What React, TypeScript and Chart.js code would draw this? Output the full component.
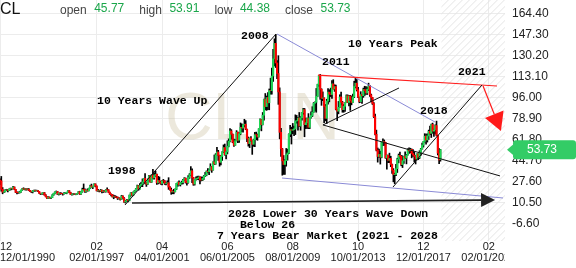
import { useEffect, useRef } from "react";
import { Chart, registerables } from "chart.js";

Chart.register(...registerables);

// ---------- data (monthly candles, index 0 = 12/1990) ----------
const SYMBOL = "CL";

const OPEN = [
  29.0,
  28.4, 21.5, 19.2, 19.6, 21.0, 21.1, 20.6, 21.7, 22.3, 22.2, 23.4, 21.5,
  19.1, 18.9, 18.7, 19.4, 20.9, 22.1, 21.6, 21.9, 21.5, 21.7, 20.6, 19.9,
  19.5, 20.3, 20.6, 20.4, 20.5, 19.9, 18.4, 17.9, 18.3, 18.8, 16.9, 15.4,
  14.2, 15.2, 14.5, 14.8, 16.9, 18.3, 19.4, 19.7, 17.6, 18.4, 18.2, 18.1,
  17.8, 18.4, 18.5, 19.2, 20.4, 18.9, 17.4, 17.6, 17.8, 17.5, 17.6, 18.2,
  19.6, 17.7, 19.5, 21.5, 21.2, 19.8, 20.9, 20.4, 22.3, 24.4, 23.4, 23.8,
  25.9, 24.2, 20.3, 20.4, 20.2, 20.9, 19.8, 20.1, 19.6, 21.2, 21.1, 19.2,
  17.6, 17.2, 15.4, 15.6, 15.4, 15.2, 14.2, 14.2, 13.4, 16.1, 14.4, 11.2,
  12.1, 12.8, 12.3, 16.8, 18.7, 16.8, 19.3, 20.5, 22.1, 24.5, 21.8, 24.6,
  25.6, 27.6, 30.4, 26.9, 25.7, 29.0, 32.5, 27.4, 33.1, 30.8, 32.7, 33.8,
  26.8, 28.7, 27.4, 26.3, 28.5, 28.4, 26.3, 26.4, 26.9, 23.4, 21.2, 19.4,
  19.8, 19.5, 21.7, 26.3, 27.3, 25.3, 26.9, 27.0, 29.0, 30.5, 27.2, 26.9,
  31.2, 33.5, 36.6, 31.0, 25.8, 29.6, 30.2, 30.5, 31.6, 29.2, 29.1, 30.4,
  32.5, 33.1, 36.2, 35.8, 37.4, 39.9, 37.1, 43.8, 42.1, 49.6, 51.8, 49.1,
  43.5, 48.2, 51.8, 55.4, 49.7, 52.0, 56.5, 60.6, 68.9, 66.2, 59.8, 57.3,
  61.0, 67.9, 61.4, 66.6, 71.9, 71.3, 73.9, 74.4, 70.3, 62.9, 58.7, 63.1,
  61.1, 58.1, 61.8, 65.9, 65.7, 64.0, 70.7, 78.2, 74.0, 81.7, 94.5, 88.7,
  96.0, 91.8, 101.8, 101.6, 113.5, 127.4, 140.0, 124.1, 115.5, 100.6, 67.8, 54.4,
  44.6, 41.7, 44.8, 49.7, 51.1, 66.3, 69.9, 69.5, 70.0, 70.6, 77.0, 77.3,
  79.4, 72.9, 79.7, 83.8, 86.2, 74.0, 75.6, 79.0, 71.9, 80.0, 81.4, 84.1,
  91.4, 92.2, 97.0, 106.7, 113.9, 102.7, 95.4, 95.7, 88.8, 79.2, 93.2, 100.4,
  98.8, 98.5, 107.1, 103.0, 104.9, 86.5, 85.0, 88.1, 96.5, 92.2, 86.2, 88.9,
  91.8, 97.5, 92.1, 97.2, 93.5, 92.0, 96.6, 105.0, 107.7, 102.3, 96.4, 92.7,
  98.4, 97.5, 102.6, 101.6, 99.7, 102.7, 105.4, 98.2, 96.0, 91.2, 80.5, 66.2,
  53.3, 48.2, 49.8, 47.6, 59.6, 60.3, 59.5, 47.1, 49.2, 45.1, 46.6, 41.7,
  37.0, 33.6, 33.8, 38.3, 45.9, 49.1, 48.3, 41.6, 44.7, 48.2, 46.9, 49.4,
  53.7, 52.8, 54.0, 50.6, 49.3, 48.3, 46.0, 50.2, 47.2, 51.7, 54.4, 57.4,
  60.4, 64.7, 61.6, 64.9, 68.6, 67.0, 74.2, 68.8, 69.8, 73.3, 65.3, 50.9,
  45.77,
];

const HIGH = [
  30.0,
  32.0, 23.0, 20.4, 21.3, 21.6, 21.3, 21.9, 22.6, 22.5, 24.0, 23.5, 21.5,
  19.6, 19.4, 19.8, 21.0, 22.2, 22.8, 22.2, 22.0, 22.1, 22.2, 20.8, 20.0,
  20.5, 20.9, 21.0, 20.9, 20.7, 19.9, 18.5, 18.5, 18.9, 19.0, 17.3, 15.6,
  15.6, 15.3, 15.0, 17.2, 18.4, 19.6, 20.2, 19.8, 18.4, 18.9, 18.7, 18.2,
  18.9, 18.8, 19.2, 20.6, 20.5, 19.2, 17.8, 18.1, 18.0, 17.8, 18.3, 19.7,
  20.0, 19.6, 22.5, 25.9, 22.0, 21.0, 22.0, 22.5, 24.9, 25.8, 24.0, 26.0,
  26.0, 24.3, 21.5, 20.6, 21.5, 21.0, 20.5, 20.5, 21.3, 22.7, 21.3, 19.3,
  17.9, 17.3, 16.8, 16.5, 16.0, 15.3, 14.9, 14.4, 16.7, 16.3, 14.8, 12.6,
  13.3, 13.1, 16.9, 18.8, 19.2, 19.5, 20.8, 22.3, 25.0, 24.8, 26.3, 27.2,
  30.0, 30.5, 34.4, 27.0, 30.0, 33.0, 32.6, 33.3, 37.8, 35.0, 36.4, 34.0,
  32.0, 31.6, 28.0, 28.8, 29.6, 28.6, 27.0, 28.5, 31.0, 23.8, 22.6, 20.5,
  21.6, 21.9, 26.4, 27.4, 28.4, 27.0, 28.2, 29.6, 31.0, 30.8, 27.7, 32.7,
  34.3, 39.99, 38.1, 31.2, 29.6, 31.7, 32.2, 32.3, 31.6, 31.6, 31.6, 33.0,
  35.3, 36.5, 38.4, 37.9, 42.3, 40.0, 43.8, 49.4, 50.5, 55.7, 53.2, 49.3,
  49.0, 52.1, 57.6, 58.3, 52.5, 60.9, 62.5, 70.9, 70.0, 66.5, 62.3, 61.9,
  69.2, 68.0, 67.5, 75.4, 74.7, 73.9, 78.4, 77.3, 70.4, 64.0, 63.2, 64.4,
  61.1, 62.3, 67.9, 68.1, 66.5, 70.7, 78.8, 78.3, 83.9, 94.7, 99.3, 97.3,
  100.1, 103.0, 111.8, 119.9, 135.1, 143.7, 147.3, 126.0, 130.0, 103.9, 71.0, 54.7,
  49.0, 45.5, 54.7, 54.2, 66.5, 73.4, 72.0, 75.0, 72.9, 82.0, 81.5, 80.0,
  83.9, 80.5, 83.9, 87.2, 87.2, 79.4, 79.3, 83.0, 80.1, 84.5, 88.6, 92.0,
  92.6, 103.4, 106.9, 113.9, 114.8, 103.2, 100.6, 95.9, 90.5, 94.7, 103.4, 102.4,
  103.7, 109.8, 110.5, 106.4, 106.2, 86.6, 92.9, 98.3, 100.4, 92.9, 90.4, 91.9,
  98.2, 98.2, 97.8, 97.8, 97.3, 98.9, 109.3, 112.2, 110.7, 104.4, 96.4, 100.8,
  98.5, 103.7, 105.2, 104.9, 104.5, 107.7, 106.0, 98.9, 96.1, 92.0, 82.6, 69.6,
  55.1, 54.2, 52.5, 59.9, 62.6, 61.6, 59.7, 49.3, 49.4, 50.9, 48.4, 42.0,
  38.4, 34.7, 41.9, 46.8, 50.2, 51.7, 49.0, 48.8, 48.4, 51.9, 49.9, 54.5,
  55.2, 54.9, 54.3, 53.8, 52.0, 48.9, 50.4, 50.4, 52.9, 54.8, 59.1, 60.5,
  66.7, 66.3, 66.6, 69.6, 72.9, 74.5, 75.3, 70.4, 73.9, 76.9, 65.4, 54.6,
  53.91,
];

const LOW = [
  25.3,
  20.0, 17.9, 18.8, 19.4, 20.5, 19.4, 20.4, 20.9, 21.2, 22.0, 21.2, 18.9,
  17.8, 18.3, 18.5, 19.1, 20.7, 21.4, 21.1, 20.8, 21.1, 20.4, 19.6, 18.9,
  18.6, 19.8, 20.0, 20.2, 19.7, 18.2, 17.3, 17.6, 17.5, 16.8, 15.4, 13.9,
  14.0, 14.4, 13.9, 14.8, 16.7, 17.9, 18.9, 17.3, 16.9, 17.5, 17.8, 16.8,
  17.6, 18.0, 17.9, 19.0, 18.7, 17.3, 16.8, 17.1, 17.3, 17.1, 17.4, 18.2,
  17.4, 17.5, 19.2, 20.9, 19.0, 19.2, 20.0, 20.3, 22.0, 23.2, 22.1, 23.6,
  23.5, 20.2, 19.9, 19.4, 19.8, 18.6, 19.0, 19.3, 19.2, 20.8, 19.0, 17.4,
  16.1, 15.3, 13.9, 14.9, 14.8, 13.3, 13.7, 12.8, 13.3, 13.9, 10.9, 10.4,
  11.7, 11.4, 12.2, 15.8, 16.5, 16.3, 18.9, 19.9, 21.8, 20.8, 21.7, 24.0,
  23.7, 27.0, 26.0, 23.9, 25.4, 28.1, 27.3, 27.2, 30.0, 29.8, 32.0, 25.6,
  26.0, 26.5, 25.6, 25.2, 26.9, 25.5, 25.2, 26.0, 21.5, 20.8, 17.5, 17.9,
  17.9, 19.4, 21.4, 23.9, 24.9, 24.2, 25.7, 26.0, 28.8, 26.6, 25.0, 26.5,
  30.4, 32.7, 26.9, 24.8, 25.0, 29.0, 29.5, 29.2, 26.0, 28.4, 28.6, 29.5,
  32.0, 32.5, 34.8, 33.5, 37.2, 35.3, 37.0, 41.6, 41.9, 49.5, 45.0, 40.3,
  41.3, 45.0, 51.2, 49.2, 46.2, 50.3, 56.0, 60.0, 62.2, 59.3, 56.3, 57.3,
  60.8, 59.5, 59.6, 65.8, 68.2, 68.0, 72.1, 69.9, 60.3, 56.6, 55.4, 60.2,
  49.9, 56.4, 56.2, 61.9, 61.3, 64.0, 70.5, 69.0, 73.8, 77.7, 86.0, 85.6,
  86.1, 86.1, 98.7, 98.7, 109.1, 121.6, 120.4, 111.3, 90.5, 62.5, 48.3, 33.0,
  33.6, 33.6, 40.3, 45.2, 50.4, 64.3, 58.3, 66.6, 65.1, 66.0, 75.2, 69.5,
  72.4, 69.5, 77.6, 82.5, 64.2, 70.8, 71.0, 70.8, 70.8, 79.2, 80.6, 84.0,
  84.9, 84.1, 96.9, 105.0, 94.6, 89.7, 93.5, 75.7, 77.1, 74.9, 90.6, 92.5,
  96.8, 95.4, 102.9, 101.0, 86.0, 77.3, 82.8, 87.9, 90.0, 84.1, 84.1, 84.7,
  91.8, 92.0, 89.3, 85.6, 90.1, 92.0, 96.0, 103.8, 101.3, 95.9, 91.8, 92.2,
  91.2, 96.2, 97.4, 98.6, 98.5, 101.6, 97.0, 92.5, 90.4, 79.8, 65.7, 52.7,
  43.6, 47.4, 42.0, 47.1, 57.0, 57.2, 46.7, 37.8, 43.2, 43.2, 39.9, 34.5,
  27.6, 26.1, 32.6, 35.2, 43.0, 46.7, 40.6, 39.2, 42.5, 46.6, 42.2, 49.3,
  50.7, 51.2, 47.1, 48.2, 43.8, 42.1, 45.4, 45.6, 46.5, 49.1, 54.2, 55.8,
  59.8, 58.1, 59.9, 62.0, 65.8, 63.6, 67.0, 64.4, 66.4, 64.9, 49.4, 42.4,
  44.38,
];

const CLOSE = [
  28.4,
  21.5, 19.2, 19.6, 21.0, 21.1, 20.6, 21.7, 22.3, 22.2, 23.4, 21.5, 19.1,
  18.9, 18.7, 19.4, 20.9, 22.1, 21.6, 21.9, 21.5, 21.7, 20.6, 19.9, 19.5,
  20.3, 20.6, 20.4, 20.5, 19.9, 18.4, 17.9, 18.3, 18.8, 16.9, 15.4, 14.2,
  15.2, 14.5, 14.8, 16.9, 18.3, 19.4, 19.7, 17.6, 18.4, 18.2, 18.1, 17.8,
  18.4, 18.5, 19.2, 20.4, 18.9, 17.4, 17.6, 17.8, 17.5, 17.6, 18.2, 19.6,
  17.7, 19.5, 21.5, 21.2, 19.8, 20.9, 20.4, 22.3, 24.4, 23.4, 23.8, 25.9,
  24.2, 20.3, 20.4, 20.2, 20.9, 19.8, 20.1, 19.6, 21.2, 21.1, 19.2, 17.6,
  17.2, 15.4, 15.6, 15.4, 15.2, 14.2, 14.2, 13.4, 16.1, 14.4, 11.2, 12.1,
  12.8, 12.3, 16.8, 18.7, 16.8, 19.3, 20.5, 22.1, 24.5, 21.8, 24.6, 25.6,
  27.6, 30.4, 26.9, 25.7, 29.0, 32.5, 27.4, 33.1, 30.8, 32.7, 33.8, 26.8,
  28.7, 27.4, 26.3, 28.5, 28.4, 26.3, 26.4, 26.9, 23.4, 21.2, 19.4, 19.8,
  19.5, 21.7, 26.3, 27.3, 25.3, 26.9, 27.0, 29.0, 30.5, 27.2, 26.9, 31.2,
  33.5, 36.6, 31.0, 25.8, 29.6, 30.2, 30.5, 31.6, 29.2, 29.1, 30.4, 32.5,
  33.1, 36.2, 35.8, 37.4, 39.9, 37.1, 43.8, 42.1, 49.6, 51.8, 49.1, 43.5,
  48.2, 51.8, 55.4, 49.7, 52.0, 56.5, 60.6, 68.9, 66.2, 59.8, 57.3, 61.0,
  67.9, 61.4, 66.6, 71.9, 71.3, 73.9, 74.4, 70.3, 62.9, 58.7, 63.1, 61.1,
  58.1, 61.8, 65.9, 65.7, 64.0, 70.7, 78.2, 74.0, 81.7, 94.5, 88.7, 96.0,
  91.8, 101.8, 101.6, 113.5, 127.4, 140.0, 124.1, 115.5, 100.6, 67.8, 54.4, 44.6,
  41.7, 44.8, 49.7, 51.1, 66.3, 69.9, 69.5, 70.0, 70.6, 77.0, 77.3, 79.4,
  72.9, 79.7, 83.8, 86.2, 74.0, 75.6, 79.0, 71.9, 80.0, 81.4, 84.1, 91.4,
  92.2, 97.0, 106.7, 113.9, 102.7, 95.4, 95.7, 88.8, 79.2, 93.2, 100.4, 98.8,
  98.5, 107.1, 103.0, 104.9, 86.5, 85.0, 88.1, 96.5, 92.2, 86.2, 88.9, 91.8,
  97.5, 92.1, 97.2, 93.5, 92.0, 96.6, 105.0, 107.7, 102.3, 96.4, 92.7, 98.4,
  97.5, 102.6, 101.6, 99.7, 102.7, 105.4, 98.2, 96.0, 91.2, 80.5, 66.2, 53.3,
  48.2, 49.8, 47.6, 59.6, 60.3, 59.5, 47.1, 49.2, 45.1, 46.6, 41.7, 37.0,
  33.6, 33.8, 38.3, 45.9, 49.1, 48.3, 41.6, 44.7, 48.2, 46.9, 49.4, 53.7,
  52.8, 54.0, 50.6, 49.3, 48.3, 46.0, 50.2, 47.2, 51.7, 54.4, 57.4, 60.4,
  64.7, 61.6, 64.9, 68.6, 67.0, 74.2, 68.8, 69.8, 73.3, 65.3, 50.9, 45.4,
  53.73,
];

// x axis (month index) ticks and labels
const X_TICK_INDEX = [0, 74, 124, 174, 224, 274, 324, 374];
const X_TICK_TOP = ["12", "02", "04", "06", "08", "10", "12", "02"];
const X_TICK_BOTTOM = [
  "12/01/1990", "02/01/1997", "04/01/2001", "06/01/2005",
  "08/01/2009", "10/01/2013", "12/01/2017", "02/01/2022",
];
const X_MAX = 386.4;

// y axis ticks
const Y_TICKS = [-6.6, 10.5, 27.6, 44.7, 61.8, 78.9, 96.0, 113.1, 130.2, 147.3, 164.4];
const Y_MIN = -20.4;
const Y_MAX = 175.2;

// drawings, in data space [month index, price]
const TREND_LINES = [
  { from: [95.6, 8.8], to: [211.2, 147.6], color: "#111111", width: 1 },
  { from: [212.0, 147.6], to: [332.8, 76.2], color: "#8a8ad6", width: 1 },
  { from: [215.8, 30.7], to: [384.9, 14.5], color: "#8a8ad6", width: 1 },
  { from: [243.3, 114.3], to: [380.3, 105.4], color: "#ff2020", width: 1.2 },
  { from: [300.7, 23.4], to: [368.8, 106.2], color: "#111111", width: 1 },
  { from: [247.1, 73.8], to: [305.3, 103.8], color: "#111111", width: 1 },
  { from: [247.1, 73.8], to: [382.6, 32.4], color: "#111111", width: 1 },
];
const ARROWS = [
  { from: [369.6, 105.4], to: [383.3, 68.9], color: "#ff1a1a", width: 1.2, head: 18, half: 10 },
  { from: [101.0, 10.4], to: [378.8, 12.9], color: "#222222", width: 1.6, head: 14, half: 7 },
];
const NOTES = [
  { text: "2008", at: [184.4, 146.0] },
  { text: "10 Years Peak", at: [266.3, 139.5] },
  { text: "2011", at: [246.4, 124.9] },
  { text: "2021", at: [350.4, 116.8] },
  { text: "10 Years Wave Up", at: [74.2, 93.2] },
  { text: "2018", at: [321.4, 85.1] },
  { text: "1998", at: [82.6, 36.4] },
  { text: "2028 Lower 30 Years Wave Down", at: [174.5, 1.5] },
  { text: "Below 26", at: [183.6, -7.4] },
  { text: "7 Years Bear Market (2021 - 2028", at: [166.0, -16.3] },
];

const GREEN = "#1fd655";
const RED = "#ff0000";
const SANS = "'Liberation Sans', Arial, sans-serif";
const MONO = "'Courier New', 'Liberation Mono', monospace";

const overlay = {
  id: "overlay",
  beforeDatasetsDraw(chart: any) {
    const { ctx, chartArea: a, scales } = chart;
    const x = scales.x;
    // hatched future region
    const hx = x.getPixelForValue(CLOSE.length - 1) + 1;
    const h = a.bottom - a.top;
    ctx.save();
    ctx.beginPath();
    ctx.rect(hx, a.top, a.right - hx, h);
    ctx.clip();
    ctx.strokeStyle = "#e4e4e4";
    ctx.lineWidth = 1;
    for (let s = hx - h; s < a.right; s += 7) {
      ctx.beginPath();
      ctx.moveTo(s, a.bottom);
      ctx.lineTo(s + h, a.top);
      ctx.stroke();
    }
    ctx.restore();
    // watermark
    ctx.save();
    ctx.fillStyle = "rgba(196,184,146,0.32)";
    ctx.font = `66px ${SANS}`;
    ctx.textBaseline = "alphabetic";
    ctx.textAlign = "left";
    ctx.fillText("CL", 165, 139);
    ctx.fillText("IN", 274, 139);
    ctx.restore();
  },
  afterDatasetsDraw(chart: any) {
    const { ctx, chartArea: a, scales } = chart;
    const x = scales.x;
    const y = scales.y;
    const P = (p: number[]) => [x.getPixelForValue(p[0]), y.getPixelForValue(p[1])];

    ctx.save();
    ctx.beginPath();
    ctx.rect(a.left, a.top, a.right - a.left, a.bottom - a.top);
    ctx.clip();
    TREND_LINES.forEach((l) => {
      const [x1, y1] = P(l.from);
      const [x2, y2] = P(l.to);
      ctx.strokeStyle = l.color;
      ctx.lineWidth = l.width;
      ctx.beginPath();
      ctx.moveTo(x1, y1);
      ctx.lineTo(x2, y2);
      ctx.stroke();
    });
    ARROWS.forEach((ar) => {
      const [x1, y1] = P(ar.from);
      const [x2, y2] = P(ar.to);
      const len = Math.hypot(x2 - x1, y2 - y1);
      const ux = (x2 - x1) / len;
      const uy = (y2 - y1) / len;
      const bx = x2 - ux * ar.head;
      const by = y2 - uy * ar.head;
      ctx.strokeStyle = ar.color;
      ctx.lineWidth = ar.width;
      ctx.beginPath();
      ctx.moveTo(x1, y1);
      ctx.lineTo(bx, by);
      ctx.stroke();
      ctx.fillStyle = ar.color;
      ctx.beginPath();
      ctx.moveTo(x2, y2);
      ctx.lineTo(bx - uy * ar.half, by + ux * ar.half);
      ctx.lineTo(bx + uy * ar.half, by - ux * ar.half);
      ctx.closePath();
      ctx.fill();
    });
    ctx.restore();

    // notes
    ctx.save();
    ctx.font = `bold 11.5px ${MONO}`;
    ctx.fillStyle = "#000";
    ctx.textBaseline = "middle";
    ctx.textAlign = "left";
    NOTES.forEach((n) => {
      const [px, py] = P(n.at);
      ctx.fillText(n.text, px, py);
    });
    ctx.restore();

    // header
    const last = CLOSE.length - 1;
    ctx.save();
    ctx.textBaseline = "alphabetic";
    ctx.textAlign = "left";
    ctx.font = `16px ${SANS}`;
    ctx.fillStyle = "#111";
    ctx.fillText(SYMBOL, 0, 14);
    const items: [string, number][] = [
      ["open", OPEN[last]],
      ["high", HIGH[last]],
      ["low", LOW[last]],
      ["close", CLOSE[last]],
    ];
    let cx = 60;
    items.forEach(([lab, val]) => {
      ctx.font = `12px ${SANS}`;
      ctx.fillStyle = "#444";
      ctx.fillText(lab, cx, 14);
      cx += ctx.measureText(lab).width + 7.5;
      ctx.fillStyle = "#1aa64a";
      const vs = val.toFixed(2);
      ctx.fillText(vs, cx, 12);
      cx += ctx.measureText(vs).width + 15;
    });
    ctx.restore();

    // x axis labels
    ctx.save();
    ctx.beginPath();
    ctx.rect(0, a.bottom, a.right, chart.height - a.bottom);
    ctx.clip();
    ctx.font = `11px ${SANS}`;
    ctx.fillStyle = "#222";
    ctx.textBaseline = "middle";
    ctx.textAlign = "left";
    X_TICK_INDEX.forEach((v, i) => {
      const px = x.getPixelForValue(v);
      [X_TICK_TOP[i], X_TICK_BOTTOM[i]].forEach((t, j) => {
        const w = ctx.measureText(t).width;
        const left = Math.max(0, px - w / 2);
        ctx.fillText(t, left, a.bottom + 6 + j * 11);
      });
    });
    ctx.restore();

    // last price box
    const py = y.getPixelForValue(CLOSE[last]);
    const tip = a.right + 2;
    ctx.save();
    ctx.fillStyle = "#33cc66";
    ctx.beginPath();
    ctx.moveTo(tip, py);
    ctx.lineTo(tip + 7, py - 6);
    ctx.lineTo(tip + 7, py + 6);
    ctx.closePath();
    ctx.fill();
    ctx.beginPath();
    ctx.roundRect(tip + 6, py - 9.5, chart.width - tip - 6, 19, 3);
    ctx.fill();
    ctx.fillStyle = "#ffffff";
    ctx.font = `12px ${SANS}`;
    ctx.textBaseline = "middle";
    ctx.textAlign = "left";
    ctx.fillText(CLOSE[last].toFixed(2), tip + 20, py + 0.5);
    ctx.restore();
  },
};

export default function App() {
  const ref = useRef<HTMLCanvasElement | null>(null);
  useEffect(() => {
    if (!ref.current) return;
    const idx = CLOSE.map((_, i) => i);
    const chart = new Chart(ref.current, {
      type: "bar",
      data: {
        datasets: [
          {
            label: "wick",
            data: idx.map((i) => ({ x: i, y: [LOW[i], HIGH[i]] })) as any,
            backgroundColor: "#000000",
            barThickness: 1,
            grouped: false,
            order: 2,
          },
          {
            label: "body",
            data: idx.map((i) => ({
              x: i,
              y: [Math.min(OPEN[i], CLOSE[i]), Math.max(OPEN[i], CLOSE[i])],
            })) as any,
            backgroundColor: idx.map((i) => (CLOSE[i] >= OPEN[i] ? GREEN : RED)),
            barThickness: 1.5,
            grouped: false,
            order: 1,
          },
        ],
      },
      options: {
        animation: false,
        responsive: false,
        devicePixelRatio: 1,
        layout: { padding: 0 },
        plugins: { legend: { display: false }, tooltip: { enabled: false } },
        scales: {
          x: {
            type: "linear",
            min: 0,
            max: X_MAX,
            offset: false,
            grid: { color: "#ececec", drawTicks: false, offset: false },
            border: { display: false },
            ticks: { display: false },
            afterBuildTicks: (s: any) => {
              s.ticks = X_TICK_INDEX.map((v) => ({ value: v }));
            },
            afterFit: (s: any) => {
              s.height = 27;
              s.paddingLeft = 0;
              s.paddingRight = 0;
            },
          },
          y: {
            position: "right",
            min: Y_MIN,
            max: Y_MAX,
            grid: { color: "#ececec", drawTicks: false },
            border: { display: false },
            ticks: {
              padding: 7,
              color: "#222",
              font: { family: SANS, size: 12 },
              callback: (v: any) => Number(v).toFixed(2),
            },
            afterBuildTicks: (s: any) => {
              s.ticks = Y_TICKS.map((v) => ({ value: v }));
            },
            afterFit: (s: any) => {
              s.width = 71;
              s.paddingTop = 0;
              s.paddingBottom = 0;
            },
          },
        },
      } as any,
      plugins: [overlay],
    });
    return () => chart.destroy();
  }, []);
  return (
    <div style={{ position: "absolute", left: 0, top: 0, width: 576, height: 268, background: "#fff" }}>
      <canvas ref={ref} width={576} height={268} style={{ display: "block" }} />
    </div>
  );
}
